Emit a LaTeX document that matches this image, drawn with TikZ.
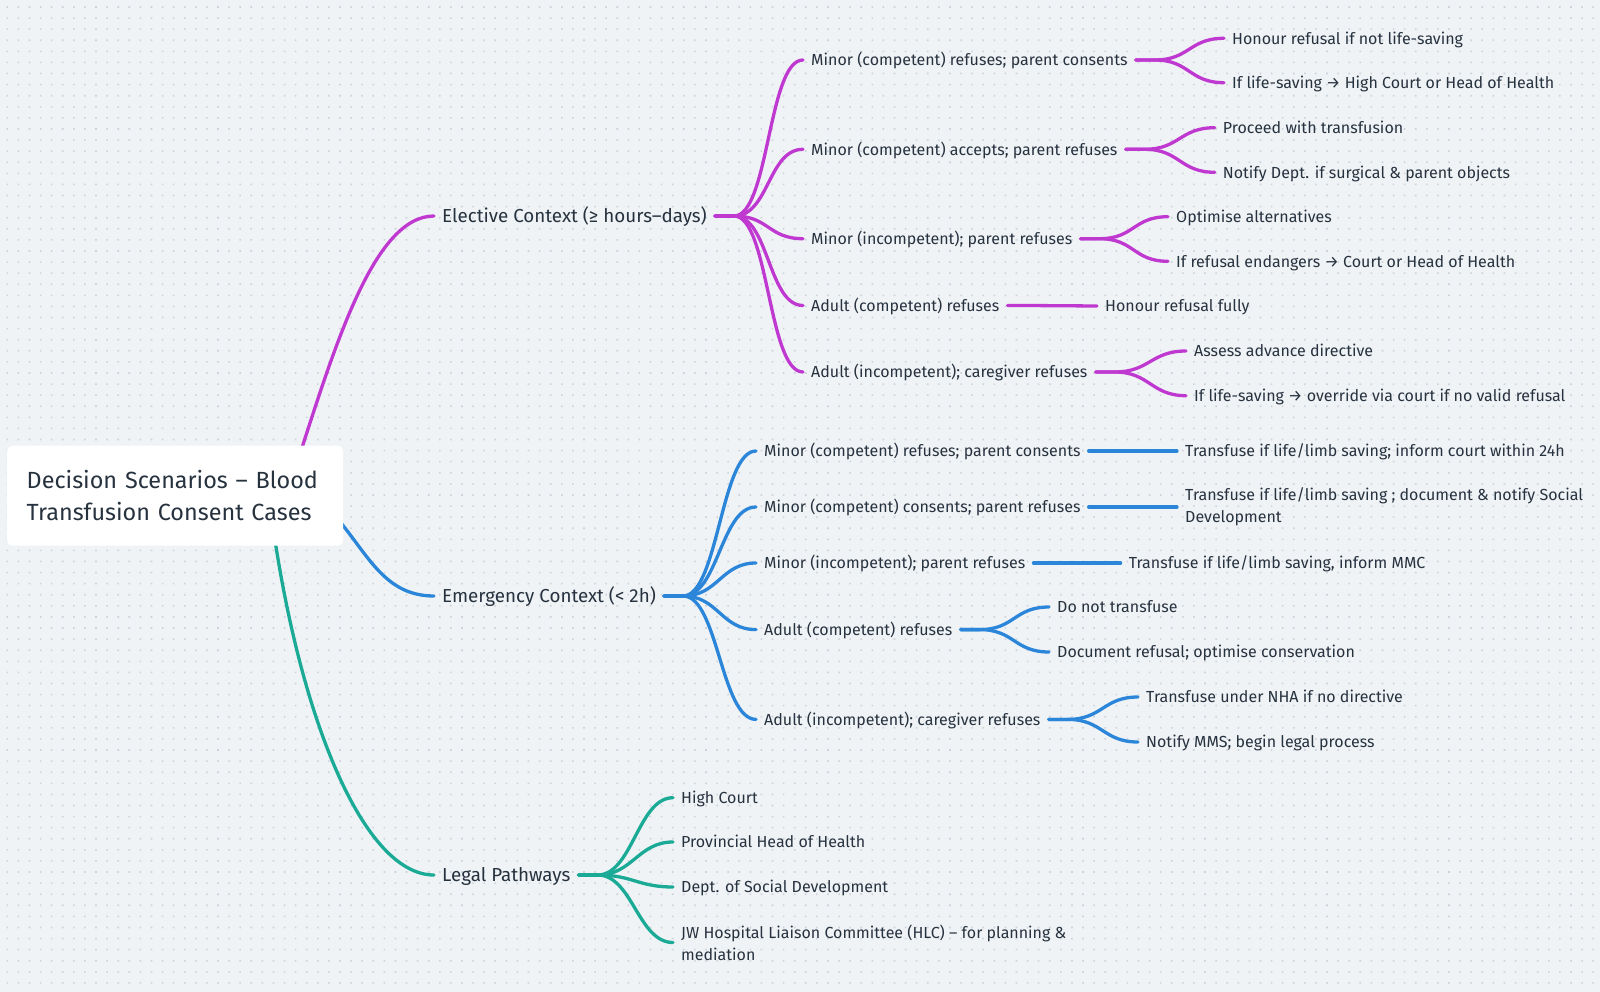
\documentclass[tikz,border=0pt]{standalone}
\usepackage{fontspec}
\setmainfont{Fira Sans}
\usepackage{xcolor}
\usetikzlibrary{calc,positioning}
\definecolor{paper}{HTML}{EFF3F6}
\definecolor{grid}{HTML}{CDD3DA}
\definecolor{ink}{HTML}{27323F}
\definecolor{purp}{HTML}{BF39D1}
\definecolor{blu}{HTML}{2B86D9}
\definecolor{teal}{HTML}{1AAA96}
\tikzset{
    rootbox/.style={fill=white, rounded corners=5pt, minimum width=336pt, minimum height=100pt,
      text width=297pt, inner xsep=19.5pt, align=left, text=ink, font=\fontsize{23.4}{32.5}\selectfont},
    mid/.style={anchor=west, inner sep=0pt, text=ink, text height=12.5pt, text depth=0pt,
      font=\fontsize{18.8}{24}\selectfont},
    leafpair/.style={anchor=west, inner sep=0pt, text=ink, align=left, font=\fontsize{16}{22}\selectfont},
    leafnode/.style={leafpair, text height=11.5pt, text depth=0pt},
    twig/.style={line width=3.3pt, line cap=round, draw=#1}}
\newcommand{\branchto}[3]{\draw[twig=#3] ([xshift=8pt]#1.east) -- ++(19,0) .. controls +(35,0) and +(-35,0) .. ([xshift=-8pt]#2.west);}
\begin{document}
\begin{tikzpicture}[x=1pt,y=-1pt]
\fill[paper] (0,0) rectangle (1600,992);
\useasboundingbox (0,0) rectangle (1600,992);
\foreach \j in {0,...,88}{
  \fill[grid] \foreach \i in {0,...,143}{(6.5+11.09*\i,6.2+11.09*\j) rectangle ++(1.6,1.6)};
}
% main branches
\node[mid] (Ele) at (442,216) {Elective Context (≥ hours–days)};
\node[mid] (Emg) at (442,596) {Emergency Context (< 2h)};
\node[mid] (Leg) at (442,875) {Legal Pathways};
\coordinate (R) at (175.2,495.7);
\draw[twig=purp] ([shift={(122.8,-35.7)}]R) .. controls +(37,-114) and +(-60,0) .. ([xshift=-8pt]Ele.west);
\draw[twig=blu] ([shift={(149.8,9.3)}]R) .. controls +(40,40) and +(-55,0) .. ([xshift=-8pt]Emg.west);
\draw[twig=teal] ([shift={(96.8,24.3)}]R) .. controls +(28,200) and +(-70,0) .. ([xshift=-8pt]Leg.west);
\node[rootbox] (Root) at (R) {Decision Scenarios – Blood\\Transfusion Consent Cases};
% elective
\node[leafnode] (E1) at (811,60) {Minor (competent) refuses; parent consents};
\node[leafnode] (E2) at (811,149.3) {Minor (competent) accepts; parent refuses};
\node[leafnode] (E3) at (811,238.7) {Minor (incompetent); parent refuses};
\node[leafnode] (E4) at (811,305.5) {Adult (competent) refuses};
\node[leafnode] (E5) at (811,372) {Adult (incompetent); caregiver refuses};
\node[leafnode] (E1a) at (1232,38.3) {Honour refusal if not life-saving};
\node[leafnode] (E1b) at (1232,82.7) {If life-saving → High Court or Head of Health};
\node[leafnode] (E2a) at (1222.7,127.7) {Proceed with transfusion};
\node[leafnode] (E2b) at (1222.7,172.3) {Notify Dept. if surgical \& parent objects};
\node[leafnode] (E3a) at (1176,216.7) {Optimise alternatives};
\node[leafnode] (E3b) at (1176,261.3) {If refusal endangers → Court or Head of Health};
\node[leafnode] (E4a) at (1105,306) {Honour refusal fully};
\node[leafnode] (E5a) at (1194,351) {Assess advance directive};
\node[leafnode] (E5b) at (1194,395.7) {If life-saving → override via court if no valid refusal};
\branchto{Ele}{E1}{purp}
\branchto{Ele}{E2}{purp}
\branchto{Ele}{E3}{purp}
\branchto{Ele}{E4}{purp}
\branchto{Ele}{E5}{purp}
\branchto{E1}{E1a}{purp}
\branchto{E1}{E1b}{purp}
\branchto{E2}{E2a}{purp}
\branchto{E2}{E2b}{purp}
\branchto{E3}{E3a}{purp}
\branchto{E3}{E3b}{purp}
\branchto{E4}{E4a}{purp}
\branchto{E5}{E5a}{purp}
\branchto{E5}{E5b}{purp}
% emergency
\node[leafnode] (M1) at (764,451) {Minor (competent) refuses; parent consents};
\node[leafnode] (M2) at (764,507) {Minor (competent) consents; parent refuses};
\node[leafnode] (M3) at (764,563) {Minor (incompetent); parent refuses};
\node[leafnode] (M4) at (764,629.6) {Adult (competent) refuses};
\node[leafnode] (M5) at (764,719.4) {Adult (incompetent); caregiver refuses};
\node[leafnode] (M1a) at (1185,451) {Transfuse if life/limb saving; inform court within 24h};
\node[leafpair] (M2a) at (1185,507) {Transfuse if life/limb saving ; document \& notify Social\\Development};
\node[leafnode] (M3a) at (1128.6,563) {Transfuse if life/limb saving, inform MMC};
\node[leafnode] (M4a) at (1057,607) {Do not transfuse};
\node[leafnode] (M4b) at (1057,652) {Document refusal; optimise conservation};
\node[leafnode] (M5a) at (1146,697) {Transfuse under NHA if no directive};
\node[leafnode] (M5b) at (1146,742) {Notify MMS; begin legal process};
\branchto{Emg}{M1}{blu}
\branchto{Emg}{M2}{blu}
\branchto{Emg}{M3}{blu}
\branchto{Emg}{M4}{blu}
\branchto{Emg}{M5}{blu}
\branchto{M1}{M1a}{blu}
\branchto{M2}{M2a}{blu}
\branchto{M3}{M3a}{blu}
\branchto{M4}{M4a}{blu}
\branchto{M4}{M4b}{blu}
\branchto{M5}{M5a}{blu}
\branchto{M5}{M5b}{blu}
% legal
\node[leafnode] (L1) at (681,797.7) {High Court};
\node[leafnode] (L2) at (681,842) {Provincial Head of Health};
\node[leafnode] (L3) at (681,887) {Dept. of Social Development};
\node[leafpair] (L4) at (681,942.5) {JW Hospital Liaison Committee (HLC) – for planning \&\\mediation};
\branchto{Leg}{L1}{teal}
\branchto{Leg}{L2}{teal}
\branchto{Leg}{L3}{teal}
\branchto{Leg}{L4}{teal}
\end{tikzpicture}
\end{document}
